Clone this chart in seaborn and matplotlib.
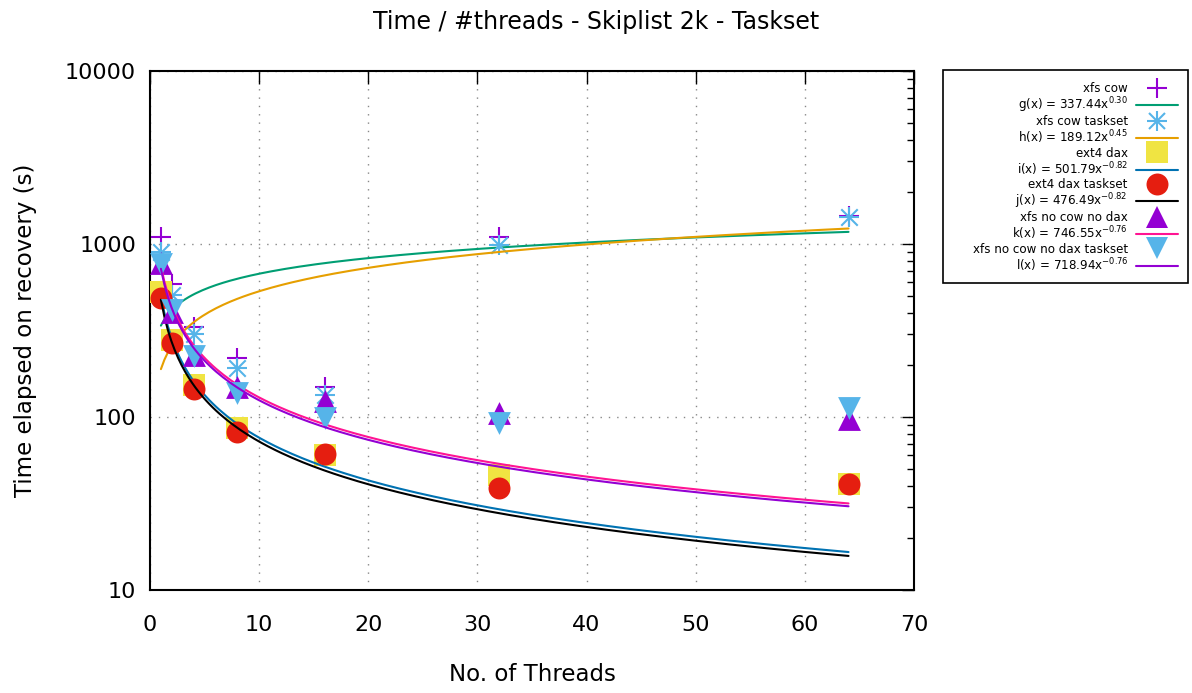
import numpy as np
import pandas as pd
import matplotlib
matplotlib.use("Agg")
import matplotlib.pyplot as plt
import seaborn as sns
from matplotlib.lines import Line2D
from matplotlib.patches import Rectangle
from matplotlib.ticker import LogLocator, NullFormatter

# ---------------- data ----------------
threads = [1, 2, 4, 8, 16, 32, 64]
xfs_cow = [1100, 590, 330, 220, 150, 1100, 1450]
xfs_cow_taskset = [900, 505, 300, 192, 134, 985, 1430]
ext4_dax = [530, 280, 153, 86, 60, 46, 41]
ext4_dax_taskset = [490, 268, 145, 82, 61, 39, 41]
xfs_nocow = [780, 405, 228, 150, 123, 105, 98]
xfs_nocow_taskset = [770, 415, 225, 138, 99, 92, 112]

series_names = ["xfs cow", "xfs cow taskset", "ext4 dax", "ext4 dax taskset",
                "xfs no cow no dax", "xfs no cow no dax taskset"]
fit_names = ["g", "h", "i", "j", "k", "l"]
fit_coef = [337.44, 189.12, 501.79, 476.49, 746.55, 718.94]
fit_exp = [0.30, 0.45, -0.82, -0.82, -0.76, -0.76]

# ---------------- style ----------------
point_colors = ["#9400d3", "#56b4e9", "#f0e442", "#e51e10", "#9400d3", "#56b4e9"]
point_markers = ["+", "*", "s", "o", "^", "v"]
line_colors = ["#009e73", "#e69f00", "#0072b2", "#000000", "#ff1493", "#9400d3"]

sns.set_theme(style="white")
plt.rcParams['font.family'] = ['DejaVu Sans']
plt.rcParams['text.color'] = 'black'
plt.rcParams['axes.labelcolor'] = 'black'
plt.rcParams['xtick.color'] = 'black'
plt.rcParams['ytick.color'] = 'black'

W, H = 1192, 693
fig = plt.figure(figsize=(W / 100, H / 100), dpi=100)
ax = fig.add_axes([150 / W, 1 - 590 / H, (914 - 150) / W, (590 - 71) / H])

values = [xfs_cow, xfs_cow_taskset, ext4_dax, ext4_dax_taskset, xfs_nocow, xfs_nocow_taskset]
xs = np.linspace(1, 64, 200)

PLUS_S = 210
X_S = 140
MS = {"s": 255, "o": 250, "^": 270, "v": 270}
LW = 1.5

handles, labels = [], []
for k in range(6):
    df = pd.DataFrame({"x": threads, "y": values[k]})
    m = point_markers[k]
    if m == "*":
        sns.scatterplot(data=df, x="x", y="y", marker="+", s=PLUS_S, linewidth=LW,
                        color=point_colors[k], ax=ax, zorder=3 + k)
        sns.scatterplot(data=df, x="x", y="y", marker="x", s=X_S, linewidth=LW,
                        color=point_colors[k], ax=ax, zorder=3 + k)
    elif m == "+":
        sns.scatterplot(data=df, x="x", y="y", marker="+", s=PLUS_S, linewidth=LW,
                        color=point_colors[k], ax=ax, zorder=3 + k)
    else:
        sns.scatterplot(data=df, x="x", y="y", marker=m, color=point_colors[k],
                        s=MS[m], linewidth=0, ax=ax, zorder=3 + k)
    fdf = pd.DataFrame({"x": xs, "y": fit_coef[k] * xs ** fit_exp[k]})
    sns.lineplot(data=fdf, x="x", y="y", color=line_colors[k], linewidth=LW,
                 ax=ax, zorder=3 + k)

    if m == "*":
        h = (Line2D([], [], linestyle="none", marker="+", markersize=np.sqrt(PLUS_S),
                    markeredgewidth=LW, color=point_colors[k]),
             Line2D([], [], linestyle="none", marker="x", markersize=np.sqrt(X_S),
                    markeredgewidth=LW, color=point_colors[k]))
    elif m == "+":
        h = Line2D([], [], linestyle="none", marker="+", markersize=np.sqrt(PLUS_S),
                   markeredgewidth=LW, color=point_colors[k])
    else:
        h = Line2D([], [], linestyle="none", marker=m, markersize=np.sqrt(MS[m]),
                   markeredgewidth=0, color=point_colors[k])
    handles.append(h)
    labels.append(series_names[k])
    handles.append(Line2D([], [], color=line_colors[k], linewidth=LW))
    labels.append(f"{fit_names[k]}(x) = {fit_coef[k]:.2f}x$^{{{fit_exp[k]:.2f}}}$")

ax.set_yscale("log")
ax.set_xlim(0, 70)
ax.set_ylim(10, 10000)
ax.set_xticks(range(0, 71, 10))
ax.set_yticks([10, 100, 1000, 10000])
ax.set_yticklabels(["10", "100", "1000", "10000"])
ax.yaxis.set_minor_locator(LogLocator(base=10, subs=np.arange(2, 10)))
ax.yaxis.set_minor_formatter(NullFormatter())

ax.grid(True, which="major", color="#888888", linestyle=(0, (1, 5)), linewidth=1)
for sp in ax.spines.values():
    sp.set_color("black")
    sp.set_linewidth(1.5)
ax.tick_params(which="both", direction="in", top=True, right=True, color="black")
ax.tick_params(which="major", length=9, width=1, labelsize=16)
ax.tick_params(axis="x", which="major", pad=18)
ax.tick_params(axis="y", which="major", pad=10)
ax.tick_params(which="minor", length=5, width=1)

ax.set_xlabel("No. of Threads", fontsize=16.5, labelpad=20)
ax.set_ylabel("Time elapsed on recovery (s)", fontsize=16.5, labelpad=20)
fig.suptitle("Time / #threads - Skiplist 2k - Taskset", fontsize=17, y=0.985)

leg = ax.legend(handles, labels, loc="upper right", bbox_to_anchor=(1178 / W, 1 - 82 / H),
                bbox_transform=fig.transFigure, markerfirst=False, fontsize=8.6,
                frameon=False, labelspacing=0.03, handlelength=3.5, handletextpad=0.7,
                borderpad=0, borderaxespad=0)
fig.add_artist(Rectangle((943 / W, 1 - 283 / H), (1188 - 943) / W, (283 - 70) / H,
                         transform=fig.transFigure, fill=False, edgecolor="black",
                         linewidth=1.2, zorder=0))

fig.savefig("out.png", dpi=100)
